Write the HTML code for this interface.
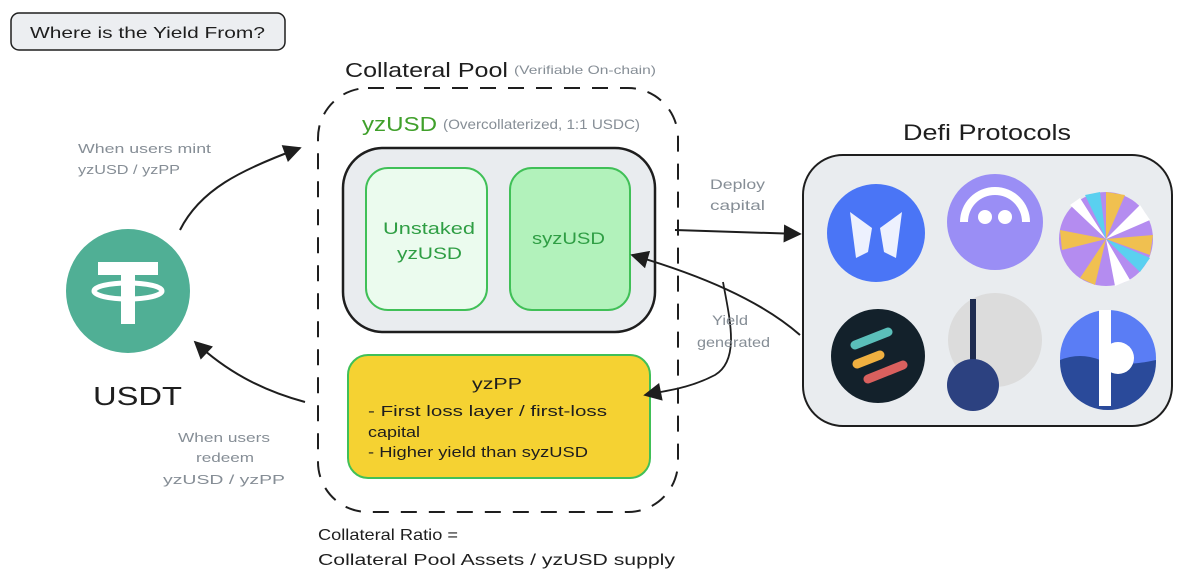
<!DOCTYPE html>
<html><head><meta charset="utf-8"><style>
html,body{margin:0;padding:0;background:#fff}
svg{display:block}
text{font-family:"Liberation Sans",sans-serif}
</style></head><body>
<svg width="1200" height="588" viewBox="0 0 1200 588" xmlns="http://www.w3.org/2000/svg">
<defs>
<marker id="ah" viewBox="0 0 10 10" refX="9" refY="5" markerWidth="20" markerHeight="18" orient="auto-start-reverse" markerUnits="userSpaceOnUse"><path d="M0,0 L10,5 L0,10 z" fill="#1e1e1e"/></marker>
</defs>
<!-- title -->
<rect x="11" y="13" width="274" height="37" rx="8" fill="#eceef1" stroke="#1e1e1e" stroke-width="1.5"/>
<text x="30" y="38" font-size="16" textLength="235" lengthAdjust="spacingAndGlyphs" fill="#1e1e1e">Where is the Yield From?</text>

<!-- collateral pool -->
<text x="345" y="77" font-size="20" textLength="163" lengthAdjust="spacingAndGlyphs" fill="#1e1e1e">Collateral Pool</text>
<text x="514" y="74" font-size="12" textLength="142" lengthAdjust="spacingAndGlyphs" fill="#868e96">(Verifiable On-chain)</text>
<rect x="318" y="88" width="360" height="424" rx="50" fill="none" stroke="#1e1e1e" stroke-width="2" stroke-dasharray="16 12"/>
<text x="362" y="131" font-size="20" textLength="75" lengthAdjust="spacingAndGlyphs" fill="#40a02b">yzUSD</text>
<text x="443" y="129" font-size="14" textLength="197" lengthAdjust="spacingAndGlyphs" fill="#868e96">(Overcollaterized, 1:1 USDC)</text>
<rect x="343" y="148" width="312" height="184" rx="40" fill="#e9ecef" stroke="#1e1e1e" stroke-width="2.5"/>
<rect x="366" y="168" width="121" height="142" rx="22" fill="#ebfbee" stroke="#40c057" stroke-width="2"/>
<text x="383" y="234" font-size="17" textLength="92" lengthAdjust="spacingAndGlyphs" fill="#2f9e44">Unstaked</text>
<text x="397" y="259" font-size="17" textLength="65" lengthAdjust="spacingAndGlyphs" fill="#2f9e44">yzUSD</text>
<rect x="510" y="168" width="120" height="142" rx="22" fill="#b2f2bb" stroke="#40c057" stroke-width="2"/>
<text x="532" y="244" font-size="17" textLength="73" lengthAdjust="spacingAndGlyphs" fill="#2f9e44">syzUSD</text>
<rect x="348" y="355" width="302" height="123" rx="20" fill="#f5d232" stroke="#40c057" stroke-width="2"/>
<text x="472" y="389" font-size="16" textLength="50" lengthAdjust="spacingAndGlyphs" fill="#1e1e1e">yzPP</text>
<text x="368" y="416" font-size="15" textLength="239" lengthAdjust="spacingAndGlyphs" fill="#1e1e1e">- First loss layer / first-loss</text>
<text x="368" y="437" font-size="15" textLength="52" lengthAdjust="spacingAndGlyphs" fill="#1e1e1e">capital</text>
<text x="368" y="457" font-size="15" textLength="220" lengthAdjust="spacingAndGlyphs" fill="#1e1e1e">- Higher yield than syzUSD</text>
<text x="318" y="540" font-size="16" textLength="140" lengthAdjust="spacingAndGlyphs" fill="#1e1e1e">Collateral Ratio =</text>
<text x="318" y="565" font-size="16" textLength="357" lengthAdjust="spacingAndGlyphs" fill="#1e1e1e">Collateral Pool Assets / yzUSD supply</text>

<!-- USDT -->
<circle cx="128" cy="291" r="62" fill="#50af95"/>
<rect x="98" y="262" width="60" height="13" fill="#fff"/>
<rect x="121" y="270" width="14" height="54" fill="#fff"/>
<ellipse cx="128" cy="291" rx="34" ry="8" fill="none" stroke="#fff" stroke-width="5"/>
<text x="93" y="405" font-size="26" textLength="89" lengthAdjust="spacingAndGlyphs" fill="#1e1e1e">USDT</text>
<text x="78" y="153" font-size="13" textLength="133" lengthAdjust="spacingAndGlyphs" fill="#868e96">When users mint</text>
<text x="78" y="174" font-size="13" textLength="102" lengthAdjust="spacingAndGlyphs" fill="#868e96">yzUSD / yzPP</text>
<text x="178" y="442" font-size="13" textLength="92" lengthAdjust="spacingAndGlyphs" fill="#868e96">When users</text>
<text x="196" y="462" font-size="13" textLength="58" lengthAdjust="spacingAndGlyphs" fill="#868e96">redeem</text>
<text x="163" y="484" font-size="13" textLength="122" lengthAdjust="spacingAndGlyphs" fill="#868e96">yzUSD / yzPP</text>
<path d="M180,230 C200,190 240,170 300,148" fill="none" stroke="#1e1e1e" stroke-width="2" marker-end="url(#ah)"/>
<path d="M305,402 C260,390 225,370 195,342" fill="none" stroke="#1e1e1e" stroke-width="2" marker-end="url(#ah)"/>

<!-- connectors to defi -->
<text x="710" y="189" font-size="14" textLength="55" lengthAdjust="spacingAndGlyphs" fill="#868e96">Deploy</text>
<text x="710" y="210" font-size="14" textLength="55" lengthAdjust="spacingAndGlyphs" fill="#868e96">capital</text>
<path d="M675,230 L800,234" fill="none" stroke="#1e1e1e" stroke-width="2" marker-end="url(#ah)"/>
<path d="M800,335 C760,300 700,275 632,255" fill="none" stroke="#1e1e1e" stroke-width="2" marker-end="url(#ah)"/>
<path d="M723,282 C730,320 740,360 715,375 C690,388 670,390 645,395" fill="none" stroke="#1e1e1e" stroke-width="1.8" marker-end="url(#ah)"/>
<text x="712" y="325" font-size="14" textLength="36" lengthAdjust="spacingAndGlyphs" fill="#868e96">Yield</text>
<text x="697" y="347" font-size="14" textLength="73" lengthAdjust="spacingAndGlyphs" fill="#868e96">generated</text>

<!-- defi -->
<text x="903" y="140" font-size="22" textLength="168" lengthAdjust="spacingAndGlyphs" fill="#1e1e1e">Defi Protocols</text>
<rect x="803" y="155" width="369" height="271" rx="40" fill="#e9ecef" stroke="#1e1e1e" stroke-width="2"/>
<circle cx="876" cy="233" r="49" fill="#4a75f6"/>
<path d="M850,212 L872,228 L868,252 L856,258 Z M902,212 L880,228 L884,252 L896,258 Z" fill="#fff" opacity="0.9"/>
<circle cx="995" cy="222" r="48" fill="#9a8ef5"/>
<path d="M960,222 A35,35 0 0 1 1030,222 L1022,222 A27,27 0 0 0 968,222 Z" fill="#fff"/>
<circle cx="985" cy="217" r="7" fill="#fff"/><circle cx="1005" cy="217" r="7" fill="#fff"/>
<circle cx="1106" cy="239" r="47" fill="#b48cf0"/>
<path d="M1106,239 L1106,192 L1125,195 Z M1106,239 L1153,235 L1150,255 Z M1106,239 L1080,278 L1095,285 Z M1106,239 L1060,230 L1062,250 Z" fill="#f0c050"/>
<path d="M1106,239 L1140,205 L1150,220 Z M1106,239 L1130,280 L1115,286 Z M1106,239 L1070,205 L1080,198 Z" fill="#fff"/>
<path d="M1106,239 L1150,258 L1140,272 Z M1106,239 L1085,195 L1100,192 Z" fill="#5ad0f0"/>
<circle cx="878" cy="356" r="47" fill="#13212b"/>
<line x1="855" y1="345" x2="888" y2="332" stroke="#5bbfba" stroke-width="9" stroke-linecap="round"/>
<line x1="857" y1="364" x2="880" y2="355" stroke="#f0b040" stroke-width="9" stroke-linecap="round"/>
<line x1="868" y1="379" x2="903" y2="365" stroke="#d9605e" stroke-width="9" stroke-linecap="round"/>
<circle cx="995" cy="340" r="47" fill="#dcdcdc"/>
<rect x="970" y="299" width="6" height="65" fill="#1f2c50"/>
<circle cx="973" cy="385" r="26" fill="#2c4180"/>
<circle cx="1108" cy="358" r="48" fill="#5a7df5"/>
<path d="M1060,360 Q1080,352 1100,360 T1156,360 L1156,362 A48,48 0 0 1 1060,362 Z" fill="#2a4a9a"/>
<rect x="1099" y="310" width="12" height="96" fill="#fff"/>
<circle cx="1118" cy="358" r="16" fill="#fff"/>
</svg>
</body></html>
